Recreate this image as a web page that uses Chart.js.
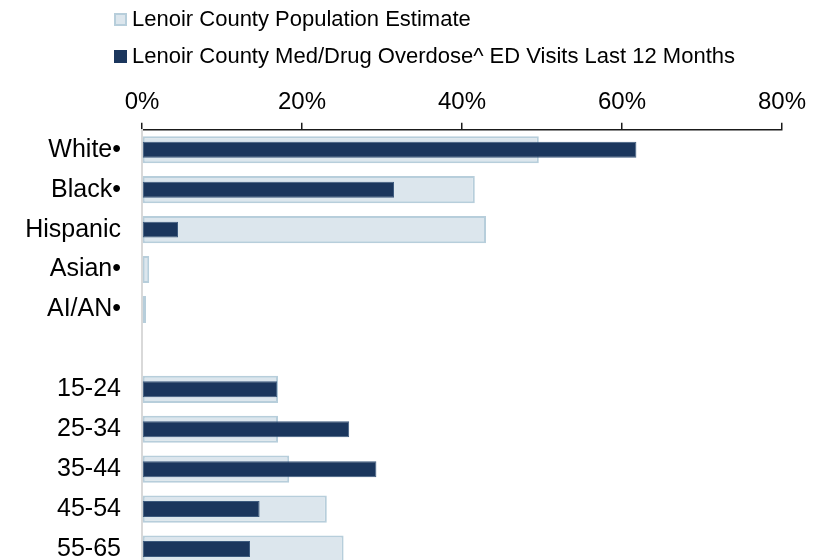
<!DOCTYPE html>
<html>
<head>
<meta charset="utf-8">
<script src="https://cdn.jsdelivr.net/npm/chart.js@4.4.1/dist/chart.umd.min.js"></script>
<style>
  html, body { margin: 0; padding: 0; background: #fff; overflow: hidden; }
  #wrap { position: relative; width: 831px; height: 605px; }
  #legend { position: absolute; left: 114px; top: 5px; font-family: 'Liberation Sans', Arial, sans-serif; font-size: 22px; color: #000; }
  .item { display: flex; align-items: center; height: 28px; margin-bottom: 9px; }
  .box { width: 13px; height: 13px; margin-right: 5px; box-sizing: border-box; }
</style>
</head>
<body>
<div id="wrap">
  <canvas id="chart"></canvas>
  <div id="legend"></div>
</div>
<script>
// Categories (blank row separates race from age groups)
const categories = ['White\u2022', 'Black\u2022', 'Hispanic', 'Asian\u2022', 'AI/AN\u2022', '', '15-24', '25-34', '35-44', '45-54', '55-65'];

// Percent values
const populationEstimate = [49.6, 41.6, 43.0, 0.9, 0.5, null, 17.0, 17.0, 18.4, 23.1, 25.2];
const overdoseVisits = [61.8, 31.5, 4.5, 0, 0, null, 16.9, 25.9, 29.3, 14.7, 13.5];

const xTicks = [0, 20, 40, 60, 80];

const fontFamily = "'Liberation Sans', Arial, sans-serif";

const chart = new Chart(document.getElementById('chart'), {
    type: 'bar',
    data: {
        labels: categories,
        datasets: [
            {
                label: 'Lenoir County Population Estimate',
                data: populationEstimate,
                backgroundColor: '#dce6ed',
                borderColor: '#b7cedb',
                borderWidth: 2,
                borderSkipped: false,
                grouped: false,
                barPercentage: 0.68,
                categoryPercentage: 1,
                order: 2
            },
            {
                label: 'Lenoir County Med/Drug Overdose^ ED Visits Last 12 Months',
                data: overdoseVisits,
                backgroundColor: '#1b365d',
                borderColor: '#3d5a7e',
                borderWidth: 1,
                borderSkipped: false,
                grouped: false,
                barPercentage: 0.4,
                categoryPercentage: 1,
                order: 1
            }
        ]
    },
    options: {
        indexAxis: 'y',
        responsive: true,
        maintainAspectRatio: false,
        animation: false,
        layout: { padding: { top: 82, right: 49, bottom: 8, left: 0 } },
        plugins: {
            legend: { display: false },
            tooltip: { enabled: false }
        },
        scales: {
            x: {
                position: 'top',
                min: 0,
                max: 80,
                afterBuildTicks: scale => { scale.ticks = xTicks.map(v => ({ value: v })); },
                ticks: {
                    callback: v => v + '%',
                    color: '#000',
                    font: { family: fontFamily, size: 24 },
                    padding: 6
                },
                grid: { drawOnChartArea: false, tickLength: 7, color: '#1a1a1a', lineWidth: 1.5 },
                border: { color: '#1a1a1a', width: 1.5 }
            },
            y: {
                ticks: {
                    color: '#000',
                    font: { family: fontFamily, size: 25 },
                    padding: 21
                },
                grid: { display: false, drawTicks: false },
                border: { color: '#d9d9d9', width: 2 },
                afterFit: scale => { scale.width = 142; }
            }
        }
    }
});

// HTML legend, one row per dataset
const legendDiv = document.getElementById('legend');
chart.data.datasets.forEach(ds => {
    const item = document.createElement('div');
    item.className = 'item';
    const box = document.createElement('span');
    box.className = 'box';
    box.style.background = ds.backgroundColor;
    box.style.border = ds.borderWidth > 1 ? '2px solid ' + ds.borderColor : 'none';
    const text = document.createElement('span');
    text.textContent = ds.label;
    item.appendChild(box);
    item.appendChild(text);
    legendDiv.appendChild(item);
});
</script>
</body>
</html>
